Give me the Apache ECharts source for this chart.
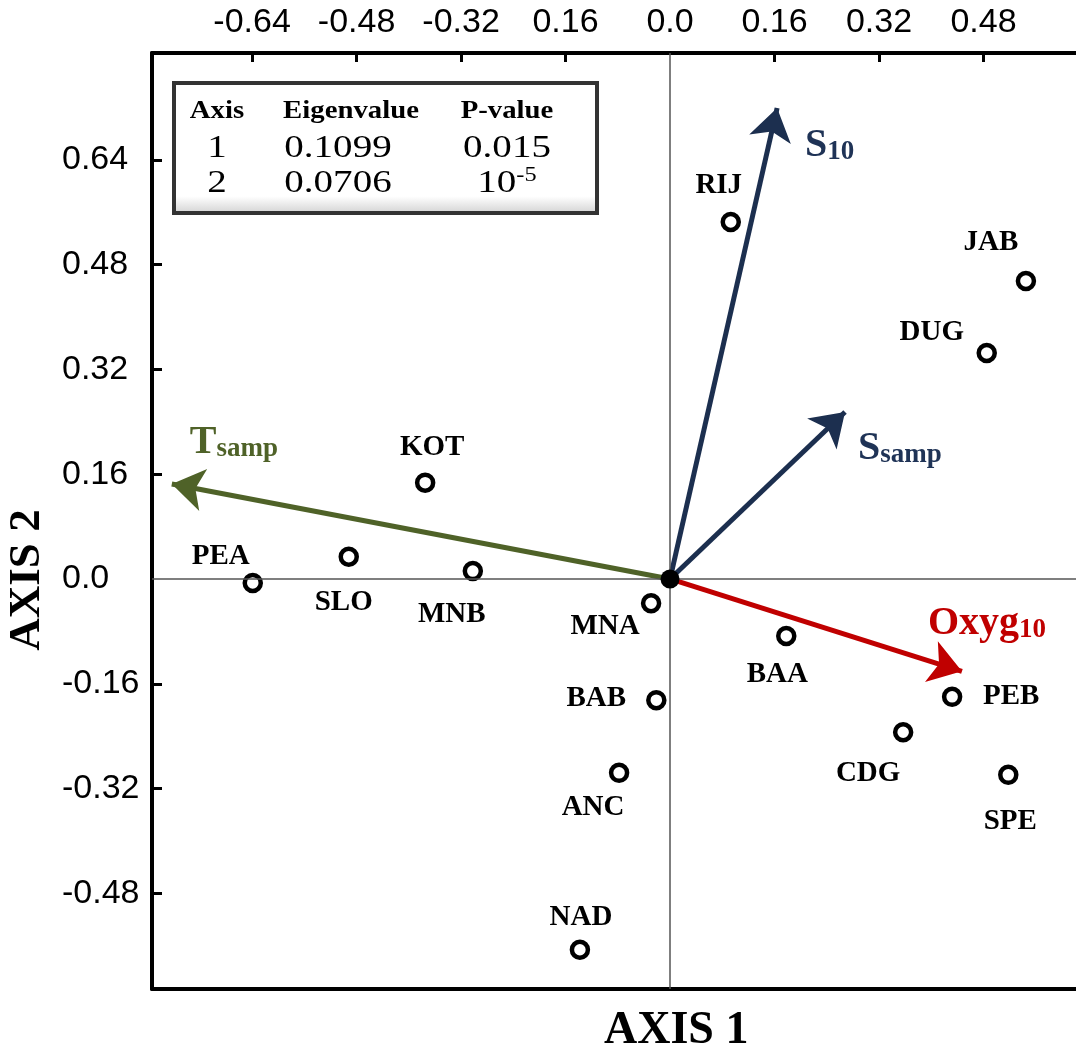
<!DOCTYPE html>
<html>
<head>
<meta charset="utf-8">
<script src="https://cdn.jsdelivr.net/npm/echarts@6/dist/echarts.min.js"></script>
<style>
html, body { margin: 0; padding: 0; background: #fff; }
#container { width: 1076px; height: 1055px; }
</style>
</head>
<body>
<div id="container"></div>
<script type="text/javascript">
// site scores on the two ordination axes
var siteNames = ['RIJ', 'JAB', 'DUG', 'KOT', 'PEA', 'SLO', 'MNB', 'MNA', 'BAB', 'ANC', 'NAD', 'BAA', 'PEB', 'CDG', 'SPE'];
var axis1Scores = [0.093, 0.545, 0.485, -0.375, -0.639, -0.492, -0.302, -0.029, -0.021, -0.078, -0.138, 0.178, 0.432, 0.357, 0.518];
var axis2Scores = [0.545, 0.455, 0.345, 0.147, -0.006, 0.034, 0.012, -0.037, -0.185, -0.296, -0.566, -0.087, -0.180, -0.234, -0.299];

// environmental vectors (arrow tips)
var vectorMain = ['S', 'S', 'T', 'Oxyg'];
var vectorSub = ['10', 'samp', 'samp', '10'];
var vectorAxis1 = [0.164, 0.268, -0.763, 0.447];
var vectorAxis2 = [0.719, 0.255, 0.145, -0.141];

// tick labels
var xTickValues = [-0.64, -0.48, -0.32, -0.16, 0, 0.16, 0.32, 0.48];
var xTickLabels = ['-0.64', '-0.48', '-0.32', '0.16', '0.0', '0.16', '0.32', '0.48'];
var yTickValues = [0.64, 0.48, 0.32, 0.16, 0, -0.16, -0.32, -0.48];
var yTickLabels = ['0.64', '0.48', '0.32', '0.16', '0.0', '-0.16', '-0.32', '-0.48'];

// eigenvalue table
var tableHeader = ['Axis', 'Eigenvalue', 'P-value'];
var tableAxis = ['1', '2'];
var tableEigen = ['0.1099', '0.0706'];
var tablePvalue = ['0.015', '10{sup|-5}'];

// styling
var vectorColors = ['#1c2f4f', '#1c2f4f', '#4f6228', '#c00000'];
var vectorTextColors = ['#1f3356', '#1f3356', '#4f6228', '#c00000'];
var vectorLabelOffset = [[28, 38], [13, 37], [18, -41], [-34, -48]];
var siteLabelOffset = {
    RIJ: [-12, -36], JAB: [-35, -38], DUG: [-55, -20], KOT: [7, -35], PEA: [-32, -26],
    SLO: [-5, 46], MNB: [-21, 43], MNA: [-46, 23], BAB: [-60, -2], ANC: [-26, 35],
    NAD: [1, -32], BAA: [-9, 39], PEB: [59, 0], CDG: [-35, 41], SPE: [2, 47]
};
var serif = '"Liberation Serif", "Times New Roman", serif';
var sans = '"Liberation Sans", Arial, sans-serif';

function tickText(values, labels) {
    return function (v) {
        for (var i = 0; i < values.length; i++) {
            if (Math.abs(values[i] - v) < 1e-6) return labels[i];
        }
        return '';
    };
}

var dom = document.getElementById('container');
var myChart = echarts.init(dom);

var siteData = siteNames.map(function (n, i) {
    return {
        name: n,
        value: [axis1Scores[i], axis2Scores[i]],
        label: { offset: siteLabelOffset[n] }
    };
});

var vectorLines = vectorMain.map(function (n, i) {
    return {
        coords: [[0, 0], [vectorAxis1[i], vectorAxis2[i]]],
        lineStyle: { color: vectorColors[i] }
    };
});

var vectorTips = vectorMain.map(function (n, i) {
    return {
        name: n,
        value: [vectorAxis1[i], vectorAxis2[i]],
        label: {
            offset: vectorLabelOffset[i],
            formatter: '{m|' + n + '}{s|' + vectorSub[i] + '}',
            rich: {
                m: { fontSize: 40, fontFamily: serif, fontWeight: 'bold', color: vectorTextColors[i], lineHeight: 40, verticalAlign: 'top' },
                s: { fontSize: 27, fontFamily: serif, fontWeight: 'bold', color: vectorTextColors[i], lineHeight: 27, padding: [20, 0, 0, 0], verticalAlign: 'bottom' }
            }
        }
    };
});

var tableCols = [217, 351, 507];
var tableRowsY = [149, 184];
var tableGraphics = [{
    type: 'rect',
    shape: { x: 174, y: 83, width: 423, height: 130 },
    style: {
        fill: new echarts.graphic.LinearGradient(0, 0, 0, 1, [
            { offset: 0, color: '#ffffff' },
            { offset: 0.86, color: '#ffffff' },
            { offset: 1, color: '#cfcfcf' }
        ]),
        stroke: '#333333',
        lineWidth: 4
    }
}];
tableHeader.forEach(function (h, c) {
    tableGraphics.push({
        type: 'text', x: tableCols[c], y: 112, scaleX: 1.15,
        style: { text: h, font: 'bold 25px ' + serif, fill: '#000', align: 'center', verticalAlign: 'middle' }
    });
});
[tableAxis, tableEigen, tablePvalue].forEach(function (col, c) {
    col.forEach(function (t, r) {
        tableGraphics.push({
            type: 'text', x: tableCols[c] + (c === 1 ? -13 : 0), y: tableRowsY[r], scaleX: 1.22,
            style: {
                text: t, font: '32px ' + serif, fill: '#000', align: 'center', verticalAlign: 'middle',
                rich: { sup: { font: '20px ' + serif, fill: '#000', padding: [0, 0, 16, 0] } }
            }
        });
    });
});

option = {
    animation: false,
    backgroundColor: '#ffffff',
    grid: { left: 152, top: 53, right: 0, bottom: 66 },
    xAxis: [
        {
            type: 'value', position: 'top', min: -0.7933, max: 0.6217,
            axisLine: { show: true, onZero: false, lineStyle: { color: '#000', width: 4 } },
            axisTick: { show: true, inside: true, length: 9, lineStyle: { color: '#000', width: 3 },
                customValues: xTickValues.filter(function (v) { return v !== 0; }) },
            axisLabel: { customValues: xTickValues, formatter: tickText(xTickValues, xTickLabels),
                fontSize: 34, fontFamily: sans, color: '#000', margin: 13 },
            splitLine: { show: false }
        },
        {
            type: 'value', position: 'bottom', min: -0.7933, max: 0.6217,
            axisLine: { show: true, onZero: false, lineStyle: { color: '#000', width: 4 } },
            axisTick: { show: false }, axisLabel: { show: false }, splitLine: { show: false }
        }
    ],
    yAxis: {
        type: 'value', min: -0.626, max: 0.803,
        axisLine: { show: true, onZero: false, lineStyle: { color: '#000', width: 4 } },
        axisTick: { show: true, inside: true, length: 10, lineStyle: { color: '#000', width: 3 },
            customValues: yTickValues.filter(function (v) { return v !== 0; }) },
        axisLabel: { customValues: yTickValues, formatter: tickText(yTickValues, yTickLabels),
            fontSize: 34, fontFamily: sans, color: '#000', align: 'left', margin: 90 },
        splitLine: { show: false }
    },
    title: {
        text: 'AXIS 1', left: 599, top: 1003,
        textStyle: { fontSize: 46, fontFamily: serif, fontWeight: 'bold', color: '#000' }
    },
    graphic: [{
        type: 'text', x: 27, y: 580, rotation: Math.PI / 2,
        style: { text: 'AXIS 2', font: 'bold 45px ' + serif, fill: '#000', align: 'center', verticalAlign: 'middle' }
    }].concat(tableGraphics),
    series: [
        {
            type: 'scatter', xAxisIndex: 0, yAxisIndex: 0, z: 1, symbolSize: 0, data: [],
            markLine: {
                silent: true, symbol: ['none', 'none'], label: { show: false },
                lineStyle: { color: '#555', width: 1.5, type: 'solid' },
                data: [{ xAxis: 0 }, { yAxis: 0 }]
            }
        },
        {
            type: 'lines', coordinateSystem: 'cartesian2d', xAxisIndex: 0, yAxisIndex: 0, z: 2,
            symbol: ['none', 'arrow'], symbolSize: [24, 32],
            lineStyle: { width: 5, opacity: 1, curveness: 0 },
            data: vectorLines
        },
        {
            type: 'scatter', xAxisIndex: 0, yAxisIndex: 0, z: 3, symbolSize: 0,
            itemStyle: { opacity: 1 },
            label: { show: true, position: 'inside', align: 'left', verticalAlign: 'middle' },
            emphasis: { disabled: true },
            data: vectorTips
        },
        {
            type: 'scatter', xAxisIndex: 0, yAxisIndex: 0, z: 4,
            symbol: 'circle', symbolSize: 16,
            itemStyle: { color: '#fff', borderColor: '#000', borderWidth: 4.5, opacity: 1 },
            label: {
                show: true, position: 'inside', formatter: '{b}',
                fontSize: 29, fontFamily: serif, fontWeight: 'bold', color: '#000'
            },
            emphasis: { disabled: true },
            data: siteData
        },
        {
            type: 'scatter', xAxisIndex: 0, yAxisIndex: 0, z: 5,
            symbol: 'circle', symbolSize: 19, itemStyle: { color: '#000', opacity: 1 },
            data: [[0, 0]]
        }
    ]
};

if (option && typeof option === "object") {
    myChart.setOption(option, true);
}
</script>
</body>
</html>
